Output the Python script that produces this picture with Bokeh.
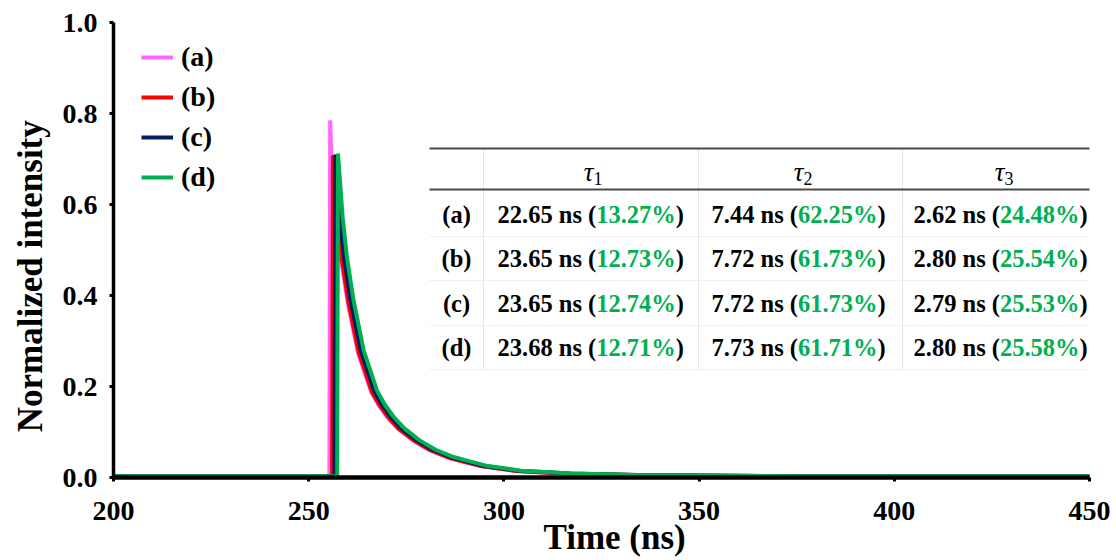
import math
from bokeh.plotting import figure
from bokeh.models import (Range1d, FixedTicker, PrintfTickFormatter, Label,
                          BoxAnnotation, Legend, LegendItem)
from bokeh.embed import file_html
from bokeh.resources import INLINE

# ---------------- data ----------------
time_a = [200.0, 255.3, 255.5, 255.8, 257.2, 258.3, 260.0, 262.6, 266.0, 268.0, 270.3,
          273.0, 277.0, 281.0, 285.6, 289.5, 294.0, 303.0, 316.0, 336.0, 376.0, 450.0]
int_a = [0.002, 0.002, 0.785, 0.700, 0.566, 0.478, 0.384, 0.275, 0.188, 0.158, 0.131,
         0.106, 0.080, 0.060, 0.044, 0.035, 0.025, 0.0145, 0.0085, 0.0048, 0.0028, 0.0025]

time_b = [200.0, 256.0, 256.2, 257.4, 258.5, 260.2, 262.8, 266.2, 268.2, 270.5,
          273.2, 277.2, 281.2, 285.8, 289.7, 294.2, 303.2, 316.2, 336.2, 376.2, 450.0]
int_b = [0.002, 0.002, 0.708, 0.566, 0.478, 0.384, 0.275, 0.188, 0.158, 0.131,
         0.106, 0.080, 0.060, 0.044, 0.035, 0.025, 0.0145, 0.0085, 0.0048, 0.0028, 0.0025]

time_c = [200.0, 256.6, 256.8, 258.0, 259.1, 260.8, 263.4, 266.8, 268.8, 271.1,
          273.8, 277.8, 281.8, 286.4, 290.3, 294.8, 303.8, 316.8, 336.8, 376.8, 450.0]
int_c = [0.0025, 0.0025, 0.710, 0.569, 0.481, 0.386, 0.277, 0.190, 0.159, 0.132,
         0.107, 0.0805, 0.0605, 0.0445, 0.0355, 0.0255, 0.0148, 0.0088, 0.0049, 0.0029, 0.0028]

time_d = [200.0, 257.3, 257.5, 258.7, 259.8, 261.5, 264.1, 267.5, 269.5, 271.8,
          274.5, 278.5, 282.5, 287.1, 291.0, 295.5, 304.5, 317.5, 337.5, 377.5, 450.0]
int_d = [0.003, 0.003, 0.712, 0.572, 0.484, 0.389, 0.279, 0.191, 0.160, 0.133,
         0.108, 0.081, 0.061, 0.045, 0.036, 0.026, 0.015, 0.009, 0.005, 0.003, 0.003]

series_labels = ["(a)", "(b)", "(c)", "(d)"]
series_colors = ["#FF66FF", "#FF0000", "#002060", "#00B050"]

row_labels = ["(a)", "(b)", "(c)", "(d)"]
tau_subscripts = ["1", "2", "3"]
tau1_ns = ["22.65", "23.65", "23.65", "23.68"]
tau1_pct = ["13.27", "12.73", "12.74", "12.71"]
tau2_ns = ["7.44", "7.72", "7.72", "7.73"]
tau2_pct = ["62.25", "61.73", "61.73", "61.71"]
tau3_ns = ["2.62", "2.80", "2.79", "2.80"]
tau3_pct = ["24.48", "25.54", "25.53", "25.58"]

x_ticks = [200, 250, 300, 350, 400, 450]
y_ticks = [0.0, 0.2, 0.4, 0.6, 0.8, 1.0]
x_title = "Time (ns)"
y_title = "Normalized intensity"

# ---------------- layout ----------------
W, H = 1116, 560
FL, FR, FT, FB = 113, 1089, 22, 477
L, R, T, B = FL, W - FR, FT, H - FB
X0, X1, Y0, Y1 = 200, 450, 0.0, 1.0

def dx(px):
    return X0 + (px - FL) * (X1 - X0) / (FR - FL)

def dy(py):
    return Y0 + (FB - py) * (Y1 - Y0) / (FB - FT)

SERIF = "Liberation Serif"
GREEN = "#00B050"
NB = "\u00a0"

p = figure(width=W, height=H, x_range=Range1d(X0, X1), y_range=Range1d(Y0, Y1),
           output_backend="svg", toolbar_location=None,
           min_border_left=L, min_border_right=R, min_border_top=T, min_border_bottom=B)
p.background_fill_color = "white"
p.border_fill_color = "white"
p.outline_line_color = None
p.xgrid.visible = False
p.ygrid.visible = False

p.xaxis.ticker = FixedTicker(ticks=x_ticks)
p.yaxis.ticker = FixedTicker(ticks=y_ticks)
p.yaxis.formatter = PrintfTickFormatter(format="%.1f")
for ax in (p.xaxis, p.yaxis):
    ax.major_label_text_font = SERIF
    ax.major_label_text_font_style = "bold"
    ax.major_label_text_font_size = "28px"
    ax.major_label_text_color = "black"
    ax.axis_line_color = "black"
    ax.major_tick_line_color = "black"
    ax.major_tick_line_width = 3
    ax.major_tick_out = 4
    ax.major_tick_in = 0
    ax.minor_tick_line_color = None
    ax.axis_label_text_font = SERIF
    ax.axis_label_text_font_style = "bold"
    ax.axis_label_text_font_size = "35px"
    ax.axis_label_text_color = "black"
p.xaxis.axis_line_width = 4.5
p.yaxis.axis_line_width = 3.5
p.xaxis.major_label_standoff = 20
p.yaxis.major_label_standoff = 12
# no-break spaces shift the centred titles the way they sit in the reference
p.yaxis.axis_label = y_title + NB * 6
p.xaxis.axis_label = NB * 3 + x_title
p.yaxis.axis_label_standoff = 10
p.xaxis.axis_label_standoff = -5

times = [time_a, time_b, time_c, time_d]
ints = [int_a, int_b, int_c, int_d]
renderers = []
for t, v, c in zip(times, ints, series_colors):
    renderers.append(p.line(t, v, line_color=c, line_width=4))

legend = Legend(items=[LegendItem(label=lab, renderers=[r]) for lab, r in zip(series_labels, renderers)],
                location=(141 - FL, FB - 193), padding=0, margin=0, spacing=8,
                glyph_width=32, glyph_height=28, label_height=28, label_standoff=8,
                border_line_color=None, background_fill_alpha=0,
                label_text_font=SERIF, label_text_font_style="bold",
                label_text_font_size="28px", label_text_color="black")
p.add_layout(legend)

# ---------------- table ----------------
TBL_L, TBL_R, TBL_TOP, TBL_HDR, TBL_BOT = 429, 1100, 148, 189, 369
col_seps = [483, 698, 902]
row_seps = [236, 280, 325]
row_y = [214, 258, 302.5, 346.5]
col_start = [497, 711, 913]
hdr_cx = [590, 800, 1001]

for xs in col_seps:
    p.add_layout(BoxAnnotation(left=dx(xs - 0.5), right=dx(xs + 0.5), top=dy(TBL_TOP), bottom=dy(TBL_BOT),
                               fill_color="#e4e4e4", fill_alpha=1, line_color=None, level="underlay"))
for ys in row_seps + [TBL_BOT]:
    p.add_layout(BoxAnnotation(left=dx(TBL_L), right=dx(TBL_R), top=dy(ys - 0.5), bottom=dy(ys + 0.5),
                               fill_color="#f0f0f0", fill_alpha=1, line_color=None, level="underlay"))
for ys in (TBL_TOP, TBL_HDR):
    p.add_layout(BoxAnnotation(left=dx(TBL_L), right=dx(TBL_R), top=dy(ys - 1), bottom=dy(ys + 1),
                               fill_color="#4a4a4a", fill_alpha=1, line_color=None))

W_BOLD = {c: 500 for c in "0123456789"}
W_BOLD.update({".": 250, " ": 250, "n": 556, "s": 389, "(": 333, ")": 333, "%": 1000})
TS = 24.5

def tw(s, size=TS):
    return sum(W_BOLD[ch] for ch in s) * size / 1000.0

def lab(px, py, text, color="black", align="left", size="24.5px", style="bold"):
    p.add_layout(Label(x=dx(px), y=dy(py), text=text, text_align=align, text_baseline="middle",
                       text_font=SERIF, text_font_style=style, text_font_size=size,
                       text_color=color))

for cx, sub in zip(hdr_cx, tau_subscripts):
    lab(cx + 3, 171, "τ", align="right", size="27px", style="italic")
    lab(cx + 3, 178, sub, align="left", size="18px", style="normal")

cols = [(tau1_ns, tau1_pct), (tau2_ns, tau2_pct), (tau3_ns, tau3_pct)]
for i, ry in enumerate(row_y):
    lab(456, ry, row_labels[i], align="center")
    for (ns_vals, pct_vals), x0 in zip(cols, col_start):
        s1 = ns_vals[i] + " ns ("
        s2 = pct_vals[i] + "%"
        lab(x0, ry, s1)
        lab(x0 + tw(s1), ry, s2, color=GREEN)
        lab(x0 + tw(s1) + tw(s2), ry, ")")

open("out.html", "w").write(file_html(p, INLINE))
